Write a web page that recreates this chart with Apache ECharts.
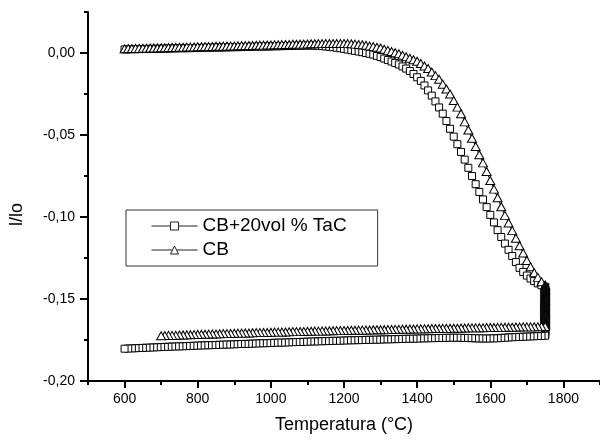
<!DOCTYPE html>
<html>
<head>
<meta charset="utf-8">
<script src="https://cdn.jsdelivr.net/npm/echarts@6/dist/echarts.min.js"></script>
<style>html,body{margin:0;padding:0;background:#fff}#c{width:600px;height:441px}</style>
</head>
<body>
<div id="c"></div>
<script>
// Temperatures (°C) of the sampled points, heating run 600..1750
const tempHeat = [600,610,620,630,640,650,660,670,680,690,700,710,720,730,740,750,760,770,780,790,
800,810,820,830,840,850,860,870,880,890,900,910,920,930,940,950,960,970,980,990,
1000,1010,1020,1030,1040,1050,1060,1070,1080,1090,1100,1110,1120,1130,1140,1150,1160,1170,1180,1190,
1200,1210,1220,1230,1240,1250,1260,1270,1280,1290,1300,1310,1320,1330,1340,1350,1360,1370,1380,1390,
1400,1410,1420,1430,1440,1450,1460,1470,1480,1490,1500,1510,1520,1530,1540,1550,1560,1570,1580,1590,
1600,1610,1620,1630,1640,1650,1660,1670,1680,1690,1700,1710,1720,1730,1740,1750];
const holdTemp = 1750;

// CB+20vol % TaC : heating, isothermal hold, cooling (cooling listed by increasing T)
const tacHeat = [.0022,.0022,.0023,.0023,.0024,.0024,.0025,.0025,.0025,.0026,.0026,.0027,.0027,.0028,.0028,.0029,.0029,.0029,.0030,.0030,
.0031,.0031,.0032,.0032,.0033,.0033,.0033,.0034,.0034,.0035,.0035,.0036,.0036,.0037,.0037,.0038,.0038,.0039,.0039,.0040,
.0040,.0041,.0041,.0042,.0042,.0043,.0043,.0044,.0044,.0045,.0045,.0045,.0045,.0044,.0042,.0040,.0038,.0035,.0032,.0029,
.0025,.0021,.0017,.0013,.0009,.0005,.0000,-.0005,-.0010,-.0018,-.0025,-.0034,-.0043,-.0052,-.0061,-.0070,-.0082,-.0095,-.0110,-.0128,
-.0148,-.0170,-.0198,-.0228,-.0260,-.0295,-.0332,-.0370,-.0415,-.0462,-.0510,-.0556,-.0603,-.0650,-.0700,-.0750,-.0800,-.0847,-.0893,-.0940,
-.0987,-.1033,-.1080,-.1122,-.1162,-.1200,-.1238,-.1275,-.1310,-.1335,-.1357,-.1375,-.1391,-.1405,-.1416,-.1425];
const tacHold = [-.1430,-.1436,-.1442,-.1448,-.1454,-.1460,-.1466,-.1472,-.1478,-.1484,-.1490,-.1496,-.1502,-.1508,-.1514,-.1520,
-.1526,-.1532,-.1538,-.1544,-.1550,-.1556,-.1562,-.1568,-.1574,-.1580,-.1586,-.1592,-.1598,-.1604,-.1610,-.1616,-.1622,-.1628,
-.1634,-.1640,-.1646,-.1652,-.1658,-.1664,-.1670,-.1676,-.1682,-.1688,-.1694,-.1700,-.1706,-.1712,-.1718];
const tacCool = [-.1803,-.1802,-.1801,-.1800,-.1799,-.1798,-.1797,-.1796,-.1795,-.1794,-.1793,-.1792,-.1791,-.1790,-.1789,-.1789,-.1788,-.1787,-.1786,-.1785,
-.1784,-.1783,-.1782,-.1782,-.1781,-.1780,-.1779,-.1778,-.1778,-.1777,-.1776,-.1775,-.1774,-.1774,-.1773,-.1772,-.1771,-.1770,-.1770,-.1769,
-.1768,-.1767,-.1766,-.1766,-.1765,-.1764,-.1763,-.1762,-.1762,-.1761,-.1760,-.1759,-.1759,-.1758,-.1757,-.1757,-.1756,-.1755,-.1755,-.1754,
-.1753,-.1752,-.1752,-.1751,-.1751,-.1750,-.1749,-.1749,-.1748,-.1748,-.1747,-.1746,-.1746,-.1745,-.1745,-.1744,-.1743,-.1743,-.1742,-.1742,
-.1741,-.1740,-.1740,-.1739,-.1739,-.1738,-.1738,-.1737,-.1737,-.1736,-.1736,-.1736,-.1737,-.1737,-.1738,-.1739,-.1740,-.1740,-.1741,-.1741,
-.1740,-.1740,-.1739,-.1737,-.1736,-.1734,-.1733,-.1732,-.1731,-.1730,-.1729,-.1728,-.1727,-.1726,-.1725,-.1724];

// CB : heating, isothermal hold, cooling (cooling from 700 °C, by increasing T)
const cbHeat = [.0026,.0027,.0027,.0028,.0028,.0029,.0029,.0030,.0031,.0031,.0032,.0032,.0033,.0034,.0034,.0035,.0035,.0036,.0036,.0037,
.0038,.0038,.0039,.0039,.0040,.0041,.0041,.0042,.0042,.0043,.0043,.0044,.0045,.0045,.0046,.0046,.0047,.0048,.0048,.0049,
.0049,.0050,.0050,.0051,.0052,.0052,.0053,.0053,.0054,.0054,.0055,.0056,.0056,.0057,.0057,.0058,.0058,.0058,.0058,.0058,
.0058,.0057,.0056,.0054,.0052,.0050,.0047,.0043,.0039,.0035,.0030,.0023,.0016,.0009,.0002,-.0005,-.0014,-.0023,-.0032,-.0041,
-.0050,-.0064,-.0079,-.0095,-.0116,-.0138,-.0160,-.0190,-.0220,-.0250,-.0290,-.0330,-.0370,-.0420,-.0470,-.0520,-.0570,-.0620,-.0670,-.0723,
-.0777,-.0830,-.0883,-.0937,-.0990,-.1037,-.1083,-.1130,-.1175,-.1220,-.1265,-.1303,-.1340,-.1368,-.1395,-.1415];
const cbHold = [-.1420,-.1426,-.1432,-.1438,-.1444,-.1450,-.1456,-.1462,-.1468,-.1474,-.1480,-.1486,-.1492,-.1498,-.1504,-.1510,
-.1516,-.1522,-.1528,-.1534,-.1540,-.1546,-.1552,-.1558,-.1564,-.1570,-.1576,-.1582,-.1588,-.1594,-.1600,-.1606,-.1612,-.1618,
-.1624,-.1630,-.1636,-.1642,-.1648,-.1654,-.1660];
const cbCoolStart = 700;
const cbCool = [-.1724,-.1723,-.1722,-.1722,-.1721,-.1720,-.1719,-.1718,-.1718,-.1717,
-.1716,-.1715,-.1715,-.1714,-.1713,-.1713,-.1712,-.1711,-.1711,-.1710,
-.1709,-.1708,-.1708,-.1707,-.1707,-.1706,-.1705,-.1705,-.1704,-.1704,
-.1703,-.1702,-.1702,-.1701,-.1701,-.1700,-.1699,-.1699,-.1698,-.1698,
-.1697,-.1697,-.1696,-.1696,-.1695,-.1695,-.1694,-.1694,-.1693,-.1693,
-.1692,-.1692,-.1691,-.1691,-.1690,-.1690,-.1689,-.1689,-.1688,-.1688,
-.1687,-.1687,-.1686,-.1686,-.1685,-.1685,-.1684,-.1684,-.1683,-.1683,
-.1682,-.1682,-.1681,-.1681,-.1680,-.1680,-.1680,-.1679,-.1679,-.1678,
-.1678,-.1678,-.1677,-.1677,-.1676,-.1676,-.1676,-.1675,-.1675,-.1674,
-.1674,-.1674,-.1673,-.1673,-.1672,-.1672,-.1672,-.1671,-.1671,-.1670,
-.1670,-.1670,-.1669,-.1669,-.1668,-.1668];

// Axis ticks
const xLabelTicks = [600,800,1000,1200,1400,1600,1800];
const xMinorTicks = [500,700,900,1100,1300,1500,1700,1900];
const yLabelTicks = [-0.20,-0.15,-0.10,-0.05,0.00];
const yMinorTicks = [-0.175,-0.125,-0.075,-0.025,0.025];

const seriesNames = ['CB+20vol % TaC', 'CB'];

function buildRun(heat, hold, coolT, cool) {
  const pts = [];
  heat.forEach((v, i) => pts.push([tempHeat[i], v]));
  hold.forEach(v => pts.push([holdTemp, v]));
  for (let i = cool.length - 1; i >= 0; i--) pts.push([coolT[i], cool[i]]);
  return pts;
}
const tacData = buildRun(tacHeat, tacHold, tempHeat, tacCool);
const cbCoolT = tempHeat.slice(tempHeat.indexOf(cbCoolStart));
const cbData = buildRun(cbHeat, cbHold, cbCoolT, cbCool);

const FONT = "'Liberation Sans', Arial, sans-serif";
const fmtY = v => (Math.abs(v) < 1e-9 ? '0,00' : v.toFixed(2).replace('.', ','));
const fmtX = v => String(Math.round(v));

const chart = echarts.init(document.getElementById('c'), null, {renderer: 'canvas'});
const axisBase = {min: 500, max: 1900, splitLine: {show: false}};
chart.setOption({
  animation: false,
  backgroundColor: '#fff',
  grid: {left: 88, top: 12, right: -8, bottom: 60, containLabel: false},
  legend: {
    left: 126, top: 210,
    orient: 'vertical',
    data: seriesNames,
    itemWidth: 46, itemHeight: 10, itemGap: 4,
    padding: [6, 31, 6, 25],
    borderColor: '#333', borderWidth: 1, borderRadius: 0,
    lineStyle: {width: 1, color: '#222'},
    itemStyle: {color: '#fff', borderColor: '#222', borderWidth: 1},
    textStyle: {fontFamily: FONT, fontSize: 19, color: '#000', lineHeight: 20}
  },
  xAxis: [
    Object.assign({}, axisBase, {
      type: 'value', position: 'bottom',
      name: 'Temperatura (°C)', nameLocation: 'middle', nameGap: 35,
      nameTextStyle: {fontFamily: FONT, fontSize: 18, color: '#000'},
      axisLine: {show: true, onZero: false, lineStyle: {color: '#000', width: 2}},
      axisTick: {show: true, inside: false, length: 7, customValues: xLabelTicks, lineStyle: {color: '#000', width: 2}},
      axisLabel: {show: true, customValues: xLabelTicks, formatter: fmtX, margin: 11, fontFamily: FONT, fontSize: 14, color: '#000'}
    }),
    Object.assign({}, axisBase, {
      type: 'value', position: 'bottom', offset: 0,
      axisLine: {show: false, onZero: false},
      axisTick: {show: true, length: 4, customValues: xMinorTicks, lineStyle: {color: '#000', width: 2}},
      axisLabel: {show: false}
    })
  ],
  yAxis: [
    {
      type: 'value', position: 'left', min: -0.20, max: 0.025,
      name: 'l/lo', nameLocation: 'middle', nameGap: 62, nameRotate: 90,
      nameTextStyle: {fontFamily: FONT, fontSize: 18, color: '#000', padding: [0, 36, 0, 0]},
      splitLine: {show: false},
      axisLine: {show: true, onZero: false, lineStyle: {color: '#000', width: 2}},
      axisTick: {show: true, length: 8, customValues: yLabelTicks, lineStyle: {color: '#000', width: 2}},
      axisLabel: {show: true, customValues: yLabelTicks, margin: 13, formatter: fmtY, fontFamily: FONT, fontSize: 14, color: '#000'}
    },
    {
      type: 'value', position: 'left', offset: 0, min: -0.20, max: 0.025,
      splitLine: {show: false},
      axisLine: {show: false, onZero: false},
      axisTick: {show: true, length: 4, customValues: yMinorTicks, lineStyle: {color: '#000', width: 2}},
      axisLabel: {show: false}
    }
  ],
  series: [
    {
      name: seriesNames[0], type: 'line', xAxisIndex: 0, yAxisIndex: 0,
      data: tacData, symbol: 'rect', symbolSize: 7, showAllSymbol: true,
      lineStyle: {color: '#000', width: 1},
      itemStyle: {color: '#fff', borderColor: '#000', borderWidth: 1},
      emphasis: {disabled: true}
    },
    {
      name: seriesNames[1], type: 'line', xAxisIndex: 0, yAxisIndex: 0,
      data: cbData, symbol: 'triangle', symbolSize: [9, 8], showAllSymbol: true,
      lineStyle: {color: '#000', width: 1},
      itemStyle: {color: '#fff', borderColor: '#000', borderWidth: 1},
      emphasis: {disabled: true}
    }
  ]
});
</script>
</body>
</html>
